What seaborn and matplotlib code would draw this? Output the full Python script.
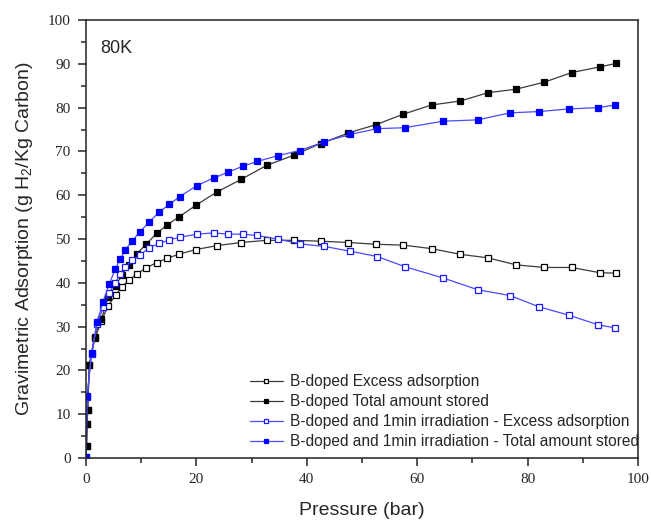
import numpy as np
import pandas as pd
import matplotlib
matplotlib.use("Agg")
import matplotlib.pyplot as plt
import seaborn as sns

# ---- data ----
b_pressure = [0.1, 0.2, 0.3, 0.6, 1.6, 2.8, 4.0, 5.4, 6.5, 7.8, 9.2, 10.9, 12.8, 14.7,
              16.8, 19.9, 23.8, 28.1, 32.7, 37.6, 42.5, 47.5, 52.5, 57.5, 62.6, 67.8,
              72.8, 77.9, 83.0, 88.0, 93.1, 96.1]
b_excess = [2.7, 7.8, 11.0, 21.2, 27.3, 31.3, 34.8, 37.2, 39.1, 40.6, 42.0, 43.4, 44.6,
            45.6, 46.5, 47.6, 48.5, 49.2, 49.7, 49.7, 49.5, 49.2, 48.8, 48.6, 47.8, 46.5,
            45.7, 44.1, 43.5, 43.5, 42.3, 42.2]
b_total = [2.7, 7.8, 11.0, 21.3, 27.7, 31.8, 36.7, 39.3, 41.8, 44.1, 46.6, 48.8, 51.3,
           53.2, 55.0, 57.7, 60.8, 63.6, 66.8, 69.1, 71.8, 74.2, 76.1, 78.5, 80.6, 81.5,
           83.4, 84.2, 85.8, 88.0, 89.3, 90.1]

i_pressure = [0.0, 0.2, 1.0, 2.0, 3.1, 4.2, 5.3, 6.2, 7.1, 8.4, 9.8, 11.4, 13.3, 15.1,
              17.0, 20.1, 23.1, 25.8, 28.4, 31.0, 34.7, 38.7, 43.2, 47.9, 52.8, 57.7,
              64.7, 71.0, 76.8, 82.1, 87.5, 92.8, 95.9]
i_excess = [0.3, 14.0, 23.8, 30.5, 34.4, 37.7, 40.0, 42.0, 43.7, 45.2, 46.3, 48.0, 49.0,
            49.8, 50.4, 51.1, 51.4, 51.1, 51.1, 50.8, 50.0, 48.9, 48.3, 47.2, 46.0, 43.7,
            41.1, 38.4, 37.1, 34.5, 32.6, 30.4, 29.7]
i_total = [0.3, 14.1, 24.0, 31.0, 35.7, 39.7, 43.1, 45.4, 47.5, 49.6, 51.7, 53.8, 56.2,
           57.9, 59.7, 62.2, 63.9, 65.3, 66.6, 67.7, 69.0, 70.2, 72.2, 73.9, 75.2, 75.4,
           76.9, 77.2, 78.8, 79.1, 79.7, 80.0, 80.6]

labels = ["B-doped Excess adsorption",
          "B-doped Total amount stored",
          "B-doped and 1min irradiation - Excess adsorption",
          "B-doped and 1min irradiation - Total amount stored"]

x_ticks = [0, 20, 40, 60, 80, 100]
y_ticks = [0, 10, 20, 30, 40, 50, 60, 70, 80, 90, 100]

# ---- style ----
sns.set_style("ticks")
plt.rcParams["font.family"] = ["Liberation Sans", "DejaVu Sans"]
plt.rcParams["mathtext.default"] = "regular"

fig = plt.figure(figsize=(6.51, 5.21), dpi=100)
ax = fig.add_axes([86 / 651, 1 - 458 / 521, (638 - 86) / 651, (458 - 20) / 521])

series = [
    (b_pressure, b_excess, "#3a3a3a", "black", "white"),
    (b_pressure, b_total, "#3a3a3a", "black", "black"),
    (i_pressure, i_excess, "#4a4aff", "#1a1aff", "white"),
    (i_pressure, i_total, "#4a4aff", "#0000ff", "#0000ff"),
]
for (xs, ys, lc, mec, mfc), lab in zip(series, labels):
    df = pd.DataFrame({"p": xs, "v": ys})
    sns.lineplot(data=df, x="p", y="v", ax=ax, sort=False, estimator=None,
                 color=lc, lw=0.9, marker="s", markersize=5, mec=mec, mfc=mfc,
                 mew=0.9, label=lab)

ax.set_xlim(0, 100)
ax.set_ylim(0, 100)
ax.set_xticks(x_ticks)
ax.set_yticks(y_ticks)
ax.set_xticks(np.arange(0, 101, 10), minor=True)
ax.set_yticks(np.arange(0, 101, 5), minor=True)
ax.tick_params(which="major", direction="out", length=6, width=1.1,
               top=False, right=False, labelsize=11, pad=5)
ax.tick_params(which="minor", direction="out", length=3.5, width=1.1,
               top=False, right=False)
for lab in ax.get_xticklabels() + ax.get_yticklabels():
    lab.set_fontfamily(["Liberation Serif", "DejaVu Serif"])
for s in ax.spines.values():
    s.set_linewidth(1.1)
    s.set_color("#222222")

ax.set_xlabel("Pressure (bar)", fontsize=14, labelpad=11)
ax.set_ylabel("Gravimetric Adsorption (g H$_2$/Kg Carbon)", fontsize=14, labelpad=9)
ax.text(0.025, 0.955, "80K", transform=ax.transAxes, fontsize=13, va="top", ha="left")

leg = ax.legend(frameon=False, loc="upper left",
                bbox_to_anchor=(250 / 651, 1 - 374 / 521),
                bbox_transform=fig.transFigure,
                fontsize=11.2, handlelength=2.1, handletextpad=0.45,
                labelspacing=0.33, markerscale=0.7, borderpad=0, borderaxespad=0)

fig.savefig("out.png", dpi=100)
